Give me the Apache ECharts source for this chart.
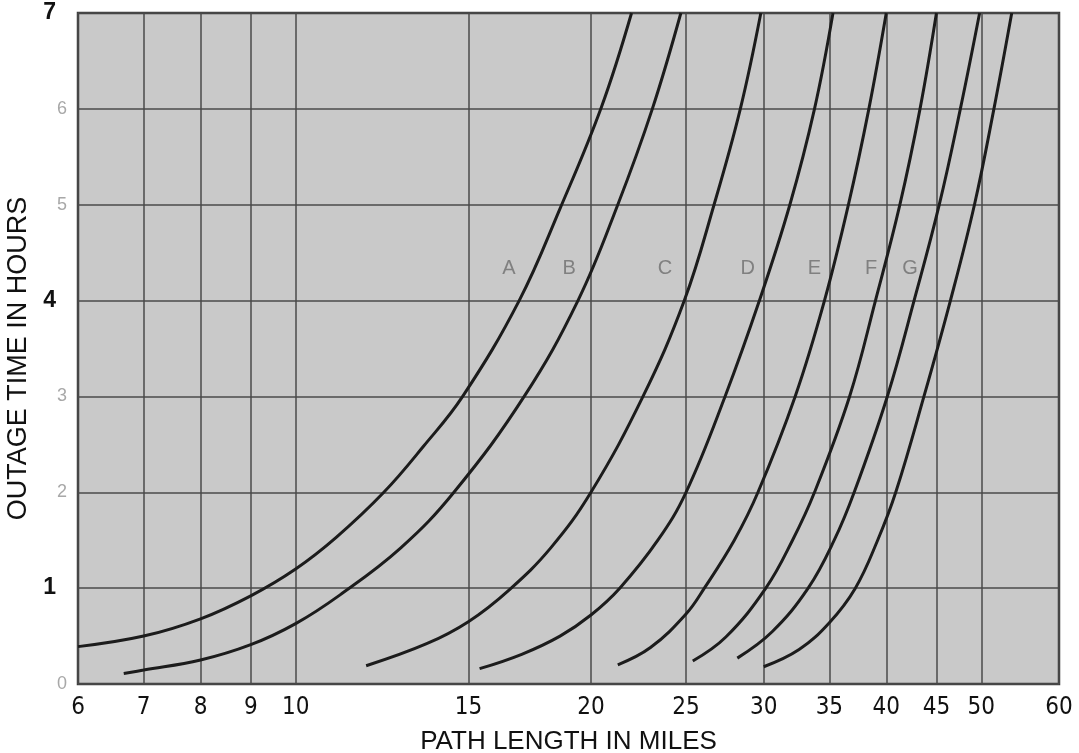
<!DOCTYPE html>
<html>
<head>
<meta charset="utf-8">
<script src="https://cdn.jsdelivr.net/npm/echarts@6/dist/echarts.min.js"></script>
<style>
  html, body { margin: 0; padding: 0; background: #ffffff; }
  #chart { width: 1079px; height: 753px; }
</style>
</head>
<body>
<div id="chart"></div>
<script>
// Path length ticks (log scale) and outage-time ticks (hours)
const pathTicks = [6, 7, 8, 9, 10, 15, 20, 25, 30, 35, 40, 45, 50, 60];
const hourTicks = [0, 1, 2, 3, 4, 5, 6, 7];

// Outage time (hours) against path length (miles) for each curve
const curveA = [[6, 0.39], [7, 0.5], [8, 0.68], [9, 0.92], [10, 1.2], [11, 1.53], [12.3, 2.0], [13.5, 2.48], [14.8, 3.0], [16.9, 4.0], [18.6, 4.96], [20.5, 6.02], [22.0, 7.0]];
const curveB = [[6.68, 0.11], [7, 0.145], [8, 0.25], [9, 0.41], [10, 0.63], [11.1, 0.93], [12.8, 1.42], [14.5, 2.0], [17.1, 3.0], [19.4, 4.0], [21.3, 5.0], [23.1, 6.0], [24.7, 7.0]];
const curveC = [[11.8, 0.19], [13.6, 0.42], [15, 0.65], [16.5, 0.98], [18.2, 1.42], [20.0, 2.0], [22.6, 3.0], [24.9, 4.0], [26.7, 5.0], [28.4, 6.0], [29.8, 7.0]];
const curveD = [[15.4, 0.16], [17, 0.31], [18.6, 0.5], [20, 0.72], [21.4, 1.0], [23.4, 1.5], [25, 2.0], [27.4, 3.0], [29.7, 4.0], [31.9, 5.0], [33.8, 6.0], [35.3, 7.0]];
const curveE = [[21.3, 0.2], [23, 0.38], [25, 0.73], [26.1, 1.0], [28.0, 1.5], [29.6, 2.0], [32.3, 3.0], [34.6, 4.0], [36.6, 5.0], [38.4, 6.0], [40, 7.0]];
const curveF = [[25.4, 0.24], [27.45, 0.49], [30.15, 1.0], [32.1, 1.5], [33.8, 2.0], [36.7, 3.0], [39.0, 4.0], [41.3, 5.0], [43.3, 6.0], [45, 7.0]];
const curveG = [[28.2, 0.27], [30.6, 0.545], [33.3, 1.0], [35.4, 1.5], [37.1, 2.0], [40.1, 3.0], [42.7, 4.0], [45.3, 5.0], [47.6, 6.0], [49.8, 7.0]];
const curveH = [[30, 0.18], [32.6, 0.36], [35, 0.64], [37.2, 1.0], [39.2, 1.5], [40.9, 2.0], [43.7, 3.0], [46.5, 4.0], [49.2, 5.0], [51.5, 6.0], [53.7, 7.0]];

// Curve letters and where they sit
const letterNames = ['A', 'B', 'C', 'D', 'E', 'F', 'G'];
const letterMiles = [16.5, 19.0, 23.8, 28.9, 33.8, 38.6, 42.3];
const letterHours = [4.33, 4.33, 4.33, 4.33, 4.33, 4.33, 4.33];

const curves = [curveA, curveB, curveC, curveD, curveE, curveF, curveG, curveH];
const curveIds = ['A', 'B', 'C', 'D', 'E', 'F', 'G', 'H'];

const chart = echarts.init(document.getElementById('chart'), null, { renderer: 'canvas' });

const gridColor = '#4a4a4a';
const darkHours = new Set([1, 4, 7]);

const lineSeries = curves.map((pts, i) => ({
  name: curveIds[i],
  type: 'line',
  data: pts,
  smooth: 0.4,
  showSymbol: false,
  symbol: 'none',
  lineStyle: { color: '#1c1c1c', width: 3 },
  z: 5,
  silent: true
}));

const letterSeries = {
  type: 'scatter',
  symbolSize: 0,
  data: letterNames.map((n, i) => [letterMiles[i], letterHours[i], n]),
  label: {
    show: true,
    position: 'inside',
    formatter: p => p.data[2],
    color: '#6e6e6e',
    fontSize: 20,
    fontFamily: 'Liberation Sans, Arial, sans-serif'
  },
  z: 6,
  silent: true
};

chart.setOption({
  animation: false,
  backgroundColor: '#ffffff',
  grid: {
    left: 78, right: 20, top: 13, bottom: 69,
    outerBoundsMode: 'none',
    containLabel: false,
    show: true,
    backgroundColor: '#c9c9c9',
    borderColor: '#3c3c3c',
    borderWidth: 2.5
  },
  xAxis: {
    type: 'log',
    logBase: 10,
    min: 6,
    max: 60,
    name: 'PATH LENGTH IN MILES',
    nameLocation: 'middle',
    nameGap: 45,
    nameTextStyle: { fontSize: 26, color: '#111', fontFamily: 'Liberation Sans, Arial, sans-serif' },
    axisLine: { show: false },
    axisTick: { show: false, customValues: pathTicks },
    axisLabel: {
      customValues: pathTicks,
      margin: 12,
      fontSize: 24,
      color: '#111',
      fontFamily: 'Liberation Sans Narrow, DejaVu Sans Condensed, sans-serif',
      formatter: v => String(Math.round(v))
    },
    splitLine: { show: true, lineStyle: { color: gridColor, width: 1.5 } }
  },
  yAxis: {
    type: 'value',
    min: 0,
    max: 7,
    interval: 1,
    name: 'OUTAGE TIME IN HOURS',
    nameLocation: 'middle',
    nameGap: 45,
    nameTextStyle: { fontSize: 27, color: '#111', padding: [0, 20, 0, 0], fontFamily: 'Liberation Sans, Arial, sans-serif' },
    axisLine: { show: false },
    axisTick: { show: false },
    axisLabel: {
      margin: 11,
      formatter: v => darkHours.has(v) ? '{d|' + v + '}' : '{f|' + v + '}',
      rich: {
        d: { fontSize: 23, fontWeight: 'bold', color: '#111', padding: [0, 11, 0, 0], fontFamily: 'Liberation Sans, Arial, sans-serif' },
        f: { fontSize: 18, color: '#a8a8a8', fontFamily: 'Liberation Sans, Arial, sans-serif' }
      }
    },
    splitLine: { show: true, lineStyle: { color: gridColor, width: 1.5 } }
  },
  series: [...lineSeries, letterSeries]
});
</script>
</body>
</html>
